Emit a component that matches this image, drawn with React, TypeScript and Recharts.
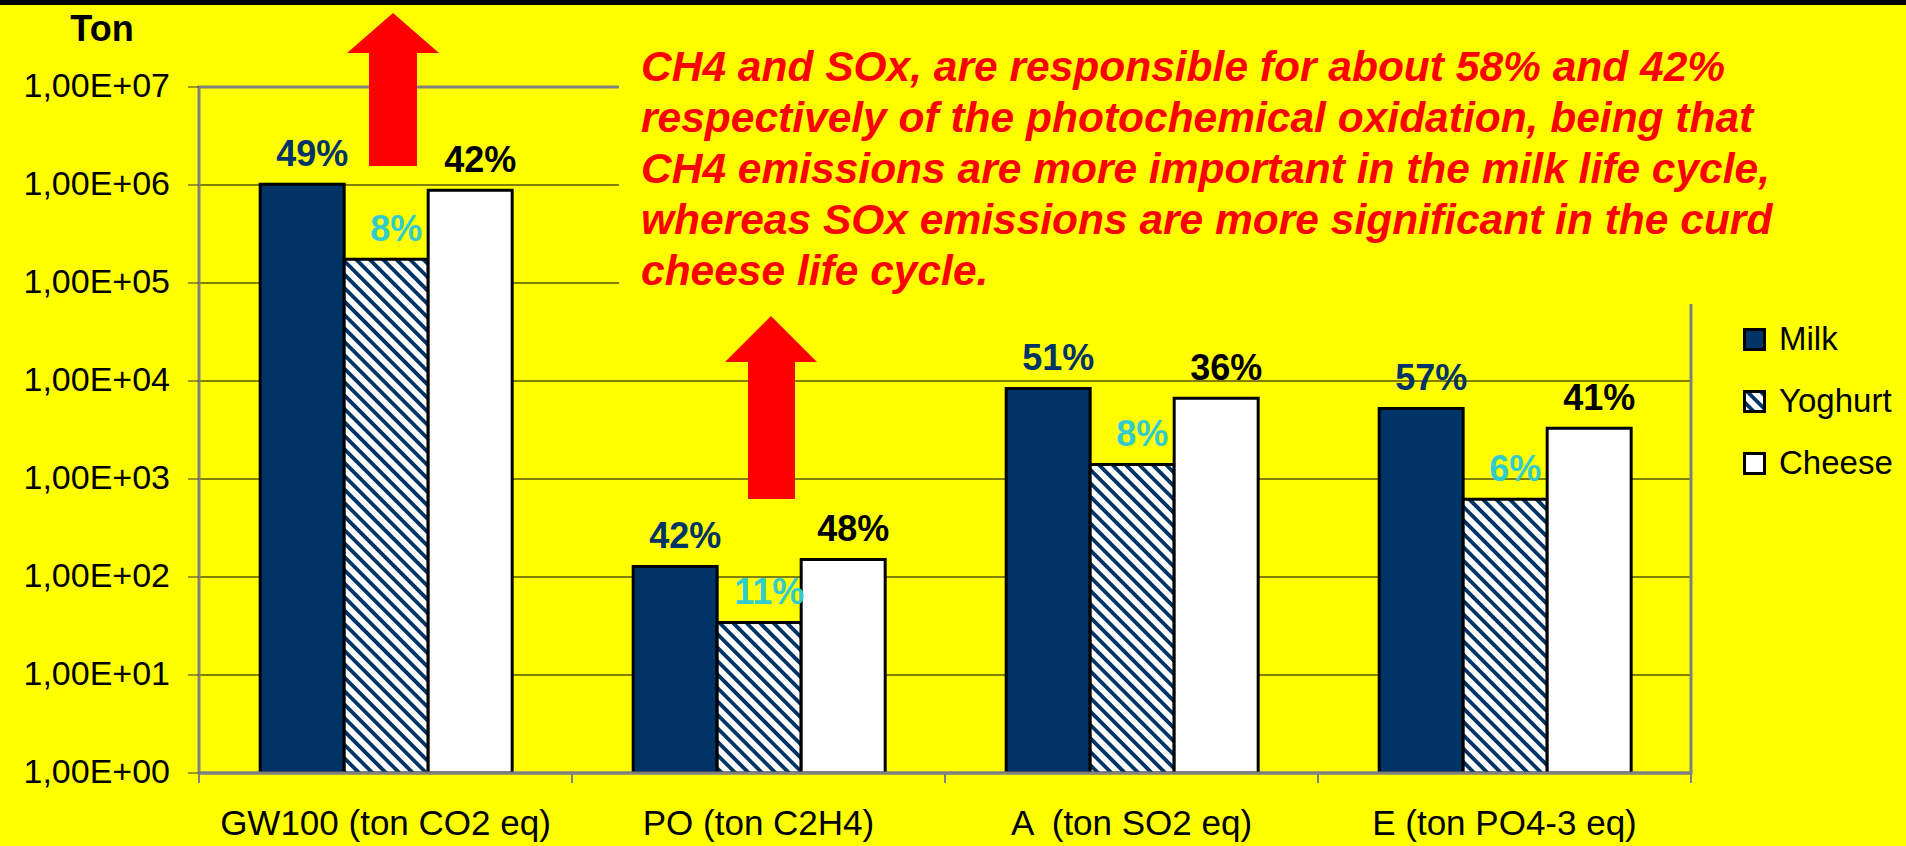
import React from 'react';
import { BarChart, Bar, XAxis, YAxis, CartesianGrid, ReferenceArea, LabelList } from 'recharts';

// impact categories and tonnes per product (log scale)
const categories = ['GW100 (ton CO2 eq)', 'PO (ton C2H4)', 'A  (ton SO2 eq)', 'E (ton PO4-3 eq)'];
const milk = [1.02e6, 128, 8.4e3, 5.25e3];
const yoghurt = [1.75e5, 34.4, 1.41e3, 620];
const cheese = [8.85e5, 151, 6.65e3, 3.3e3];

// share labels shown above the bars
const milkPct = ['49%', '42%', '51%', '57%'];
const yoghurtPct = ['8%', '11%', '8%', '6%'];
const cheesePct = ['42%', '48%', '36%', '41%'];

const seriesNames = ['Milk', 'Yoghurt', 'Cheese'];
const yTicks = [1, 10, 100, 1e3, 1e4, 1e5, 1e6, 1e7];

const note = [
  'CH4 and SOx, are responsible for about 58% and 42%',
  'respectively of the photochemical oxidation, being that',
  'CH4 emissions are more important in the milk life cycle,',
  'whereas SOx emissions are more significant in the curd',
  'cheese life cycle.',
];

const data = categories.map((cat, i) => ({
  cat,
  milk: milk[i],
  yoghurt: yoghurt[i],
  cheese: cheese[i],
  milkPct: milkPct[i],
  yoghurtPct: yoghurtPct[i],
  cheesePct: cheesePct[i],
}));

const FONT = '"Liberation Sans", Arial, sans-serif';
const NAVY = '#003366';
const YELLOW = '#FFFF00';
const fills = [NAVY, 'url(#hatch)', '#FFFFFF'];
const labelColors = [NAVY, '#33CCCC', '#000000'];

const fmtSci = (v: number) => `1,00E+${String(Math.round(Math.log10(v))).padStart(2, '0')}`;

function YTick({ x, y, payload }: any) {
  return (
    <text x={x} y={y + 10} textAnchor="end" fontSize={34} fontFamily={FONT} fill="#000">
      {fmtSci(payload.value)}
    </text>
  );
}

function XTick({ x, y, payload, index, width }: any) {
  const half = payload.offset ?? (width ? width / (categories.length * 2) : 186.5);
  const last = index === categories.length - 1;
  return (
    <g>
      <line x1={x - half} x2={x - half} y1={y} y2={y + 10} stroke="#808080" strokeWidth={2} />
      {last && <line x1={x + half} x2={x + half} y1={y} y2={y + 10} stroke="#808080" strokeWidth={2} />}
      <text x={x} y={y + 62} textAnchor="middle" fontSize={35} fontFamily={FONT} fill="#000"
        style={{ whiteSpace: 'pre' }}>
        {payload.value}
      </text>
    </g>
  );
}

const pctLabel = (color: string) => (props: any) => {
  const { x, y, width, value } = props;
  return (
    <text x={x + width / 2 + 10} y={y - 18} textAnchor="middle" fontSize={36}
      fontWeight="bold" fontFamily={FONT} fill={color}>
      {value}
    </text>
  );
};

function Swatch({ i }: { i: number }) {
  return (
    <svg width={23} height={23} style={{ display: 'block' }}>
      <rect x={1.5} y={1.5} width={20} height={20} fill={fills[i]} stroke="#000" strokeWidth={3} />
    </svg>
  );
}

export default function App() {
  return (
    <div style={{ position: 'relative', width: 1906, height: 846, background: YELLOW, overflow: 'hidden', fontFamily: FONT }}>
      <style>{'body{margin:0}'}</style>
      <svg width={0} height={0} style={{ position: 'absolute' }}>
        <defs>
          <pattern id="hatch" patternUnits="userSpaceOnUse" width={9.5} height={9.5} patternTransform="rotate(-45)">
            <rect x={0} y={0} width={9.5} height={9.5} fill="#FFFFFF" />
            <rect x={0} y={0} width={3.8} height={9.5} fill={NAVY} />
          </pattern>
        </defs>
      </svg>

      <div style={{ position: 'absolute', left: 0, top: 0, width: 1906, height: 5, background: '#000' }} />

      <div style={{ position: 'absolute', left: 0, top: 0 }}>
        <BarChart width={1906} height={846} data={data}
          margin={{ top: 87, right: 215, bottom: 0, left: 0 }}
          barCategoryGap="16.4%" barGap={0}>
          <CartesianGrid vertical={false} stroke="#000" strokeWidth={1} />
          <XAxis dataKey="cat" height={73} tickSize={0} tickMargin={0} interval={0}
            axisLine={{ stroke: '#808080', strokeWidth: 3 }} tickLine={false} tick={<XTick />} />
          <YAxis scale="log" domain={[1, 1e7]} ticks={yTicks} allowDataOverflow width={199}
            tickSize={11} tickMargin={18} interval={0}
            axisLine={{ stroke: '#808080', strokeWidth: 2 }} tickLine={{ stroke: '#333', strokeWidth: 1 }}
            tick={<YTick />} />
          <ReferenceArea y1={1} y2={1e7} fill="none" fillOpacity={0} stroke="#808080" strokeWidth={3} ifOverflow="visible" />
          <Bar dataKey="milk" name={seriesNames[0]} fill={fills[0]} stroke="#000" strokeWidth={3} isAnimationActive={false}>
            <LabelList dataKey="milkPct" content={pctLabel(labelColors[0])} />
          </Bar>
          <Bar dataKey="yoghurt" name={seriesNames[1]} fill={fills[1]} stroke="#000" strokeWidth={3} isAnimationActive={false}>
            <LabelList dataKey="yoghurtPct" content={pctLabel(labelColors[1])} />
          </Bar>
          <Bar dataKey="cheese" name={seriesNames[2]} fill={fills[2]} stroke="#000" strokeWidth={3} isAnimationActive={false}>
            <LabelList dataKey="cheesePct" content={pctLabel(labelColors[2])} />
          </Bar>
        </BarChart>
      </div>

      {/* unit label */}
      <div style={{ position: 'absolute', left: 52, top: 11, width: 100, textAlign: 'center', fontSize: 36, lineHeight: '36px', fontWeight: 'bold' }}>
        Ton
      </div>

      {/* comment box sits on top of the plot */}
      <div style={{
        position: 'absolute', left: 619, top: 20, width: 1906 - 619, height: 284, background: YELLOW,
        boxSizing: 'border-box', paddingTop: 21, paddingLeft: 22,
        color: '#FF0000', fontSize: 42.5, lineHeight: '51px', fontWeight: 'bold', fontStyle: 'italic',
      }}>
        {note.map((l, i) => <div key={i} style={{ whiteSpace: 'nowrap' }}>{l}</div>)}
      </div>

      {/* red arrows */}
      <svg width={1906} height={846} style={{ position: 'absolute', left: 0, top: 0, pointerEvents: 'none' }}>
        <polygon points="393,13 439,53 417,53 417,166 369,166 369,53 347,53" fill="#FF0000" />
        <polygon points="771,316 817,362 795,362 795,499 748,499 748,362 725,362" fill="#FF0000" />
      </svg>

      {/* legend */}
      {seriesNames.map((n, i) => (
        <div key={n} style={{ position: 'absolute', left: 1743, top: 339 + i * 62 - 16, height: 32, display: 'flex', alignItems: 'center', whiteSpace: 'nowrap' }}>
          <Swatch i={i} />
          <span style={{ marginLeft: 13, fontSize: 33, lineHeight: '32px', color: '#000' }}>{n}</span>
        </div>
      ))}
    </div>
  );
}
